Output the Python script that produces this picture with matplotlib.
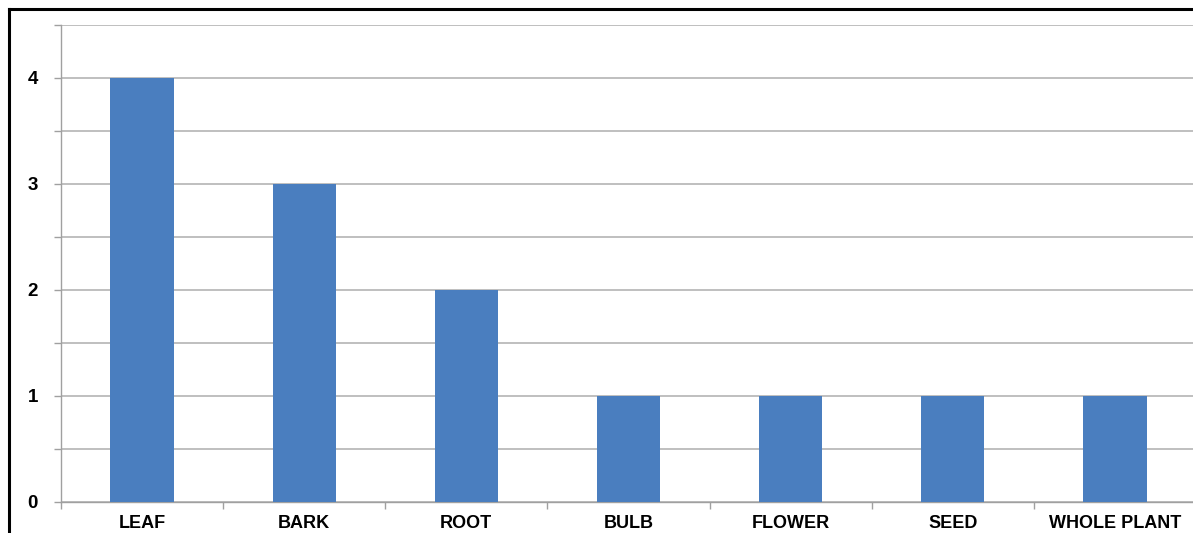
import numpy as np
import matplotlib.pyplot as plt
from matplotlib.lines import Line2D

categories = ['LEAF', 'BARK', 'ROOT', 'BULB', 'FLOWER', 'SEED', 'WHOLE PLANT']
counts = [4, 3, 2, 1, 1, 1, 1]
y_ticks = [0, 0.5, 1, 1.5, 2, 2.5, 3, 3.5, 4, 4.5]
y_labels = ['0', '', '1', '', '2', '', '3', '', '4', '']

plt.rcParams['font.family'] = ['Liberation Sans', 'DejaVu Sans']

W, H = 1193, 533
fig = plt.figure(figsize=(W / 100, H / 100), dpi=100)
ax = fig.add_axes([61 / W, (H - 502) / H, (1196 - 61) / W, (502 - 25) / H])

x = np.arange(len(categories))
ax.bar(x, counts, width=0.39, color='#4A7EBF', zorder=3)

ax.set_xlim(-0.5, len(categories) - 0.5)
ax.set_ylim(0, 4.5)

ax.set_yticks(y_ticks)
ax.set_yticklabels(y_labels, fontsize=13.5, fontweight='bold')
ax.set_xticks(x)
ax.set_xticklabels(categories, fontsize=13, fontweight='bold')
ax.set_xticks(np.arange(-0.5, len(categories)), minor=True)

ax.tick_params(axis='x', which='major', length=0, pad=9)
ax.tick_params(axis='x', which='minor', length=5, color='#a0a0a0', width=1)
ax.tick_params(axis='y', length=5, color='#a0a0a0', width=1, pad=11.5)

ax.grid(axis='y', color='#b4b4b4', linewidth=1.2, zorder=0)
for side in ['top', 'right']:
    ax.spines[side].set_visible(False)
for side in ['left', 'bottom']:
    ax.spines[side].set_color('#a0a0a0')
    ax.spines[side].set_linewidth(1)

# outer frame (left and top edges visible in the crop)
fig.add_artist(Line2D([9 / W, 9 / W], [0, 1 - 9 / H], color='black', linewidth=2.2,
                      transform=fig.transFigure))
fig.add_artist(Line2D([9 / W, 1], [1 - 9 / H, 1 - 9 / H], color='black', linewidth=2.2,
                      transform=fig.transFigure))

plt.savefig('out.png', dpi=100)
